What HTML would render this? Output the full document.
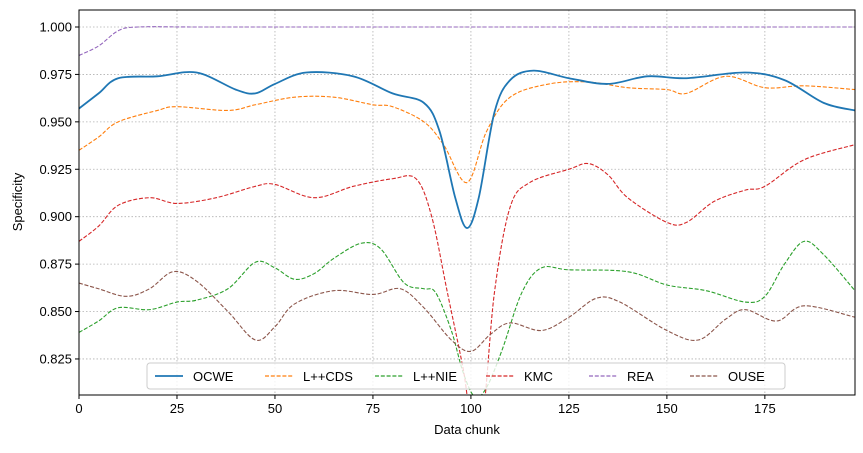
<!DOCTYPE html>
<html><head><meta charset="utf-8"><style>
body{margin:0;background:#fff;font-family:"Liberation Sans",sans-serif}
svg text{font-family:"Liberation Sans",sans-serif;font-size:13px;fill:#000}
</style></head><body>
<svg id="chart" width="863" height="448" xmlns="http://www.w3.org/2000/svg">
<defs><clipPath id="clip"><rect x="79" y="10" width="776" height="385"/></clipPath></defs>
<g id="grid"></g>
<g id="series" clip-path="url(#clip)"></g>
<rect x="79" y="10" width="776" height="385" fill="none" stroke="#000" stroke-width="1"/>
<g id="axes"></g>
<text x="467" y="434" text-anchor="middle">Data chunk</text>
<text transform="translate(22,202) rotate(-90)" text-anchor="middle">Specificity</text>
<g id="legend"></g>
</svg>
<script>
const xTicks=[0,25,50,75,100,125,150,175];
const yTicks=[0.825,0.85,0.875,0.9,0.925,0.95,0.975,1.0];
const yTickLabels=["0.825","0.850","0.875","0.900","0.925","0.950","0.975","1.000"];
const seriesNames=["OCWE","L++CDS","L++NIE","KMC","REA","OUSE"];
const colors=["#1f77b4","#ff7f0e","#2ca02c","#d62728","#9467bd","#8c564b"];
const ocweX=[0,5,10,20,30,40,45,50,58,70,80,88,92,96,99,102,106,110,116,125,135,145,155,170,180,190,198];
const ocweY=[0.957,0.965,0.973,0.974,0.976,0.967,0.965,0.970,0.976,0.974,0.965,0.960,0.945,0.91,0.894,0.91,0.955,0.972,0.977,0.973,0.970,0.974,0.973,0.976,0.972,0.960,0.956];
const cdsX=[0,5,10,20,25,38,45,55,65,75,80,88,93,99,104,110,120,130,140,150,155,165,175,185,198];
const cdsY=[0.935,0.942,0.950,0.956,0.958,0.956,0.959,0.963,0.963,0.959,0.958,0.950,0.938,0.918,0.945,0.963,0.970,0.971,0.968,0.967,0.965,0.974,0.968,0.969,0.967];
const nieX=[0,5,10,18,25,30,38,45,50,55,60,65,72,77,83,88,91,95,98,101,104,108,113,118,125,140,150,160,170,175,180,185,190,198];
const nieY=[0.839,0.845,0.852,0.851,0.855,0.856,0.862,0.876,0.873,0.867,0.870,0.878,0.886,0.883,0.865,0.862,0.860,0.840,0.818,0.805,0.810,0.830,0.860,0.873,0.872,0.871,0.864,0.861,0.855,0.858,0.875,0.887,0.880,0.861];
const kmcX=[0,5,10,18,25,35,45,50,60,70,80,86,90,94,98,100,103,106,110,115,125,130,135,140,150,155,162,170,175,185,198];
const kmcY=[0.887,0.895,0.906,0.910,0.907,0.910,0.916,0.917,0.910,0.916,0.920,0.920,0.900,0.86,0.82,0.795,0.795,0.86,0.905,0.918,0.925,0.928,0.922,0.910,0.897,0.897,0.908,0.914,0.916,0.930,0.938];
const reaX=[0,5,10,15,30,60,100,150,198];
const reaY=[0.985,0.990,0.998,1.000,1.000,1.000,1.000,1.000,1.000];
const ouseX=[0,5,12,18,24,30,38,45,50,55,65,75,82,88,95,100,105,110,118,125,132,138,150,158,165,170,178,185,198];
const ouseY=[0.865,0.862,0.858,0.862,0.871,0.866,0.850,0.835,0.842,0.854,0.861,0.859,0.862,0.852,0.835,0.829,0.838,0.844,0.840,0.847,0.857,0.855,0.840,0.835,0.846,0.851,0.845,0.853,0.847];
const allX=[ocweX,cdsX,nieX,kmcX,reaX,ouseX];
const allY=[ocweY,cdsY,nieY,kmcY,reaY,ouseY];
const X0=79,X1=855,Y0=10,Y1=395;
const xMin=0,xMax=198,yMin=0.8060,yMax=1.00896;
const sx=v=>X0+(v-xMin)/(xMax-xMin)*(X1-X0);
const sy=v=>Y1-(v-yMin)/(yMax-yMin)*(Y1-Y0);
const NS="http://www.w3.org/2000/svg";
function mk(t,a,p){const e=document.createElementNS(NS,t);for(const k in a)e.setAttribute(k,a[k]);p.appendChild(e);return e;}
const grid=document.getElementById('grid'),axes=document.getElementById('axes');
xTicks.forEach(t=>{const x=sx(t);
 const g=mk('line',{x1:x,x2:x,y1:Y0,y2:Y1,stroke:'#b0b0b0','stroke-width':0.8,'stroke-dasharray':'1.5,2'},grid);
 
 
 const l=mk('line',{x1:x,x2:x,y1:Y1,y2:Y1+4,stroke:'#000'},axes);
 
 
 const tx=mk('text',{x:x,y:Y1+18,'text-anchor':'middle'},axes);tx.textContent=t;
 
 
});
yTicks.forEach((t,i)=>{const y=sy(t);
 const g=mk('line',{x1:X0,x2:X1,y1:y,y2:y,stroke:'#b0b0b0','stroke-width':0.8,'stroke-dasharray':'1.5,2'},grid);
 
 
 const l=mk('line',{x1:X0-4,x2:X0,y1:y,y2:y,stroke:'#000'},axes);
 
 
 const tx=mk('text',{x:X0-7,y:y+4.5,'text-anchor':'end'},axes);tx.textContent=yTickLabels[i];
 
 
});
function smoothPath(xs,ys){
 const p=xs.map((x,i)=>[sx(x),sy(ys[i])]);
 let d='M'+p[0][0]+','+p[0][1];
 for(let i=0;i<p.length-1;i++){
  const p0=p[Math.max(0,i-1)],p1=p[i],p2=p[i+1],p3=p[Math.min(p.length-1,i+2)];
  const c1=[p1[0]+(p2[0]-p0[0])/6,p1[1]+(p2[1]-p0[1])/6];
  const c2=[p2[0]-(p3[0]-p1[0])/6,p2[1]-(p3[1]-p1[1])/6];
  d+=' C'+c1[0]+','+c1[1]+' '+c2[0]+','+c2[1]+' '+p2[0]+','+p2[1];
 }
 return d;
}
const sg=document.getElementById('series');
[1,2,3,4,5,0].forEach(i=>{
 const a={d:smoothPath(allX[i],allY[i]),fill:'none',stroke:colors[i],'stroke-width':i===0?1.8:1.1};
 if(i!==0)a['stroke-dasharray']='4,1.8';
 const e=mk('path',a,sg);
 
 
});
const lg=document.getElementById('legend');
const box=mk('rect',{x:147,y:363,width:638,height:26,rx:3,fill:'#fff','fill-opacity':0.8,stroke:'#ccc'},lg);


const lx=[155,265,375,486,589,690];
seriesNames.forEach((n,i)=>{
 const a={x1:lx[i],x2:lx[i]+28,y1:376,y2:376,stroke:colors[i],'stroke-width':i===0?1.8:1.3};
 if(i!==0)a['stroke-dasharray']='4,1.8';
 const l=mk('line',a,lg);
 
 
 const t=mk('text',{x:lx[i]+38,y:381},lg);t.textContent=n;
 
 
});
</script>
</body></html>
